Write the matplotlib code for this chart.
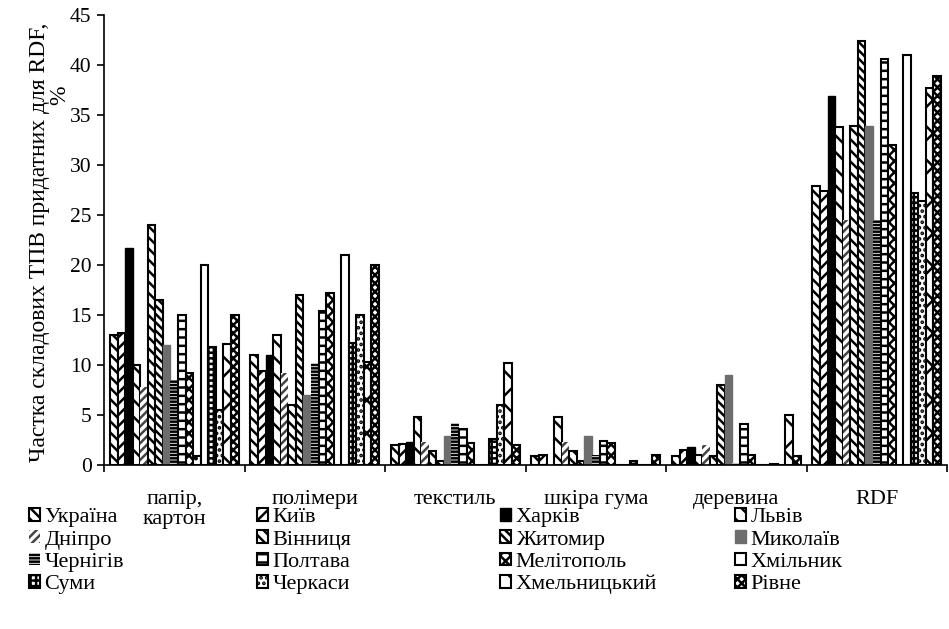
import numpy as np
import matplotlib.pyplot as plt

plt.rcParams['font.family'] = ['Liberation Serif', 'DejaVu Serif']
plt.rcParams['font.size'] = 16
plt.rcParams['hatch.linewidth'] = 1.8

categories = ['папір,\nкартон', 'полімери', 'текстиль', 'шкіра гума', 'деревина', 'RDF']
cities = ['Україна', 'Київ', 'Харків', 'Львів', 'Дніпро', 'Вінниця', 'Житомир', 'Миколаїв',
          'Чернігів', 'Полтава', 'Мелітополь', '', 'Хмільник', 'Суми', 'Черкаси',
          'Хмельницький', 'Рівне']

# share of each MSW component, %, one value per city (same order as cities)
paper = [13.0, 13.2, 21.7, 10.0, 7.8, 24.0, 16.5, 12.0, 8.5, 15.0, 9.2, 0.9, 20.0, 11.8, 5.5, 12.1, 15.0]
polymers = [11.0, 9.4, 11.0, 13.0, 9.2, 6.0, 17.0, 7.0, 10.2, 15.4, 17.2, 0.0, 21.0, 12.2, 15.0, 10.3, 20.0]
textile = [2.0, 2.1, 2.3, 4.8, 2.3, 1.4, 0.4, 2.9, 4.2, 3.6, 2.2, 0.0, 0.0, 2.6, 6.0, 10.2, 2.0]
leather = [0.9, 1.0, 0.0, 4.8, 2.3, 1.4, 0.4, 2.9, 1.0, 2.4, 2.2, 0.0, 0.0, 0.4, 0.0, 0.0, 1.0]
wood = [0.9, 1.5, 1.8, 1.0, 2.0, 0.9, 8.0, 9.0, 0.2, 4.1, 1.0, 0.0, 0.0, 0.1, 0.0, 5.0, 0.9]
rdf = [27.9, 27.4, 36.9, 33.8, 24.5, 33.9, 42.4, 33.9, 24.5, 40.6, 32.0, 0.0, 41.0, 27.2, 26.4, 37.7, 38.9]

# face colour, edge colour, hatch, edge width for every series
styles = [
    ('white', 'black', '\\\\\\', 1.5),
    ('white', 'black', '///', 1.5),
    ('black', 'black', None, 1.0),
    ('white', 'black', '\\\\', 1.5),
    ('white', '#444444', '////', 0.0),
    ('white', 'black', '\\\\\\', 1.5),
    ('white', 'black', '\\\\\\\\', 1.5),
    ('#6d6d6d', '#6d6d6d', None, 1.0),
    ('white', 'black', '-----', 0.0),
    ('white', 'black', '--', 1.5),
    ('white', 'black', 'xxx', 1.5),
    ('white', 'black', '..', 1.5),
    ('white', 'black', None, 1.5),
    ('white', 'black', '+++', 1.5),
    ('white', 'black', '...', 1.5),
    ('white', 'black', 'x', 1.5),
    ('white', 'black', 'xxxx', 1.5),
]

data = np.array([paper, polymers, textile, leather, wood, rdf])
x = np.arange(len(categories))
n = len(cities)
w = 0.915 / n

fig = plt.figure(figsize=(9.49, 6.29), dpi=100)
ax = fig.add_axes([104 / 949, 1 - 465 / 629, 843 / 949, 450 / 629])

handles = {}
for k, name in enumerate(cities):
    fc, ec, h, lw = styles[k]
    b = ax.bar(x + (k - (n - 1) / 2) * w, data[:, k], w, color=fc, edgecolor=ec,
               hatch=h, linewidth=lw)
    if name:
        handles[name] = b

ax.set_xlim(-0.5, len(categories) - 0.5)
ax.set_ylim(0, 45)
ax.set_yticks(np.arange(0, 46, 5))
ax.set_xticks(x)
ax.set_xticklabels(categories, linespacing=1.1)
ax.set_xticks(np.arange(-0.5, len(categories), 1), minor=True)
ax.tick_params(axis='x', which='major', length=0, pad=18)
ax.tick_params(axis='x', which='minor', length=5, width=1.2, direction='out')
ax.tick_params(axis='y', length=5, width=1.2, direction='out', pad=4, labelsize=15.5)
ax.spines['top'].set_visible(False)
ax.spines['right'].set_visible(False)
for s in ('left', 'bottom'):
    ax.spines[s].set_linewidth(1.2)

fig.text(40 / 949, 1 - 242 / 629, 'Частка складових ТПВ придатних для RDF,',
         rotation=90, ha='center', va='center', fontsize=17)
fig.text(60 / 949, 1 - 95 / 629, '%', rotation=90, ha='center', va='center', fontsize=17)

legend_rows = [['Україна', 'Київ', 'Харків', 'Львів'],
               ['Дніпро', 'Вінниця', 'Житомир', 'Миколаїв'],
               ['Чернігів', 'Полтава', 'Мелітополь', 'Хмільник'],
               ['Суми', 'Черкаси', 'Хмельницький', 'Рівне']]
col_x = [29, 257, 500, 735]
for c, cx in enumerate(col_x):
    names = [row[c] for row in legend_rows]
    lg = fig.legend([handles[m] for m in names], names, loc='upper left',
                    bbox_to_anchor=(cx / 949, 1 - 508 / 629), frameon=False,
                    borderpad=0, borderaxespad=0, handlelength=0.5, handleheight=0.5,
                    handletextpad=0.2, labelspacing=0.14)

fig.savefig('out.png', dpi=100)
